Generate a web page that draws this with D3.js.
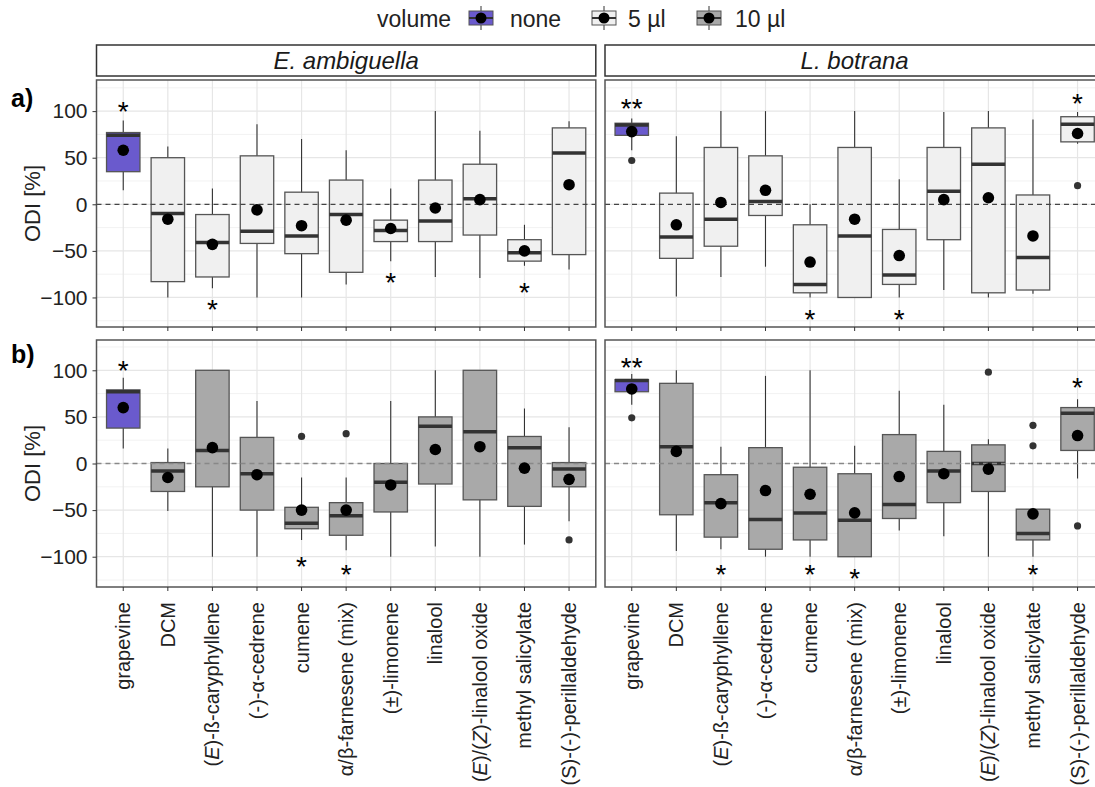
<!DOCTYPE html>
<html>
<head>
<meta charset="utf-8">
<script src="https://cdn.jsdelivr.net/npm/d3@7"></script>
<style>
  body { margin: 0; background: #fff; }
  svg { font-family: 'Liberation Sans', Arial, sans-serif; }
</style>
</head>
<body>
<svg id="chart" width="1095" height="787"></svg>
<script>
/* global d3 */

// ---- data ----
var categories = ['grapevine', 'DCM', 'caryophyllene', 'cedrene', 'cumene',
  'farnesene', 'limonene', 'linalool', 'linalool oxide', 'methyl salicylate',
  'perillaldehyde'];

// tick labels, split in [text, italic] pieces
var tickLabels = [
  [['grapevine', 0]],
  [['DCM', 0]],
  [['(', 0], ['E', 1], [')-ß-caryphyllene', 0]],
  [['(-)-α-cedrene', 0]],
  [['cumene', 0]],
  [['α/β-farnesene (mix)', 0]],
  [['(±)-limonene', 0]],
  [['linalool', 0]],
  [['(', 0], ['E', 1], [')/(', 0], ['Z', 1], [')-linalool oxide', 0]],
  [['methyl salicylate', 0]],
  [['(S)-(-)-perillaldehyde', 0]]
];

var species = ['E. ambiguella', 'L. botrana'];
var rowTags = ['a)', 'b)'];
var volumes = ['none', '5 µl', '10 µl'];
var volumeColors = ['#6a5acd', '#f0f0f0', '#a9a9a9'];
var yTicks = [-100, -50, 0, 50, 100];

// box stats per category: [lower whisker, q1, median, q3, upper whisker, mean]
var statsA_amb = [
  [15, 35, 74, 77, 90, 58],
  [-100, -83, -10, 50, 62, -16],
  [-90, -78, -41, -11, 17, -43],
  [-100, -42, -29, 52, 86, -6],
  [-100, -53, -34, 13, 70, -23],
  [-86, -73, -11, 26, 58, -17],
  [-61, -40, -28, -17, 17, -26],
  [-78, -40, -18, 26, 100, -4],
  [-79, -33, 6, 43, 79, 5],
  [-66, -61, -52, -38, -22, -50],
  [-70, -54, 55, 82, 89, 21]
];
var statsA_bot = [
  [58, 74, 85, 87, 92, 78],
  [-99, -58, -35, 12, 73, -22],
  [-78, -45, -16, 61, 100, 2],
  [-67, -12, 3, 52, 100, 15],
  [-100, -95, -86, -22, 0, -62],
  [-100, -100, -34, 61, 100, -16],
  [-100, -86, -76, -27, 27, -55],
  [-92, -38, 14, 61, 99, 5],
  [-100, -95, 43, 82, 100, 7],
  [-96, -92, -57, 10, 91, -34],
  [65, 67, 86, 94, 99, 76]
];
var statsB_amb = [
  [16, 38, 77, 79, 92, 60],
  [-51, -30, -8, 1, 16, -15],
  [-100, -25, 14, 100, 100, 17],
  [-100, -50, -11, 28, 67, -12],
  [-82, -70, -64, -47, -15, -50],
  [-93, -77, -56, -42, -15, -50],
  [-100, -52, -20, 0, 67, -23],
  [-89, -22, 40, 50, 100, 15],
  [-100, -39, 34, 100, 100, 18],
  [-87, -46, 17, 29, 59, -5],
  [-62, -25, -6, 1, 39, -17]
];
var statsB_bot = [
  [63, 77, 89, 90, 96, 80],
  [-94, -55, 18, 86, 100, 13],
  [-92, -79, -42, -12, 18, -43],
  [-100, -92, -60, 17, 94, -29],
  [-100, -82, -53, -4, 100, -33],
  [-100, -100, -61, -11, 19, -53],
  [-72, -59, -44, 31, 78, -14],
  [-78, -42, -8, 13, 63, -11],
  [-100, -30, 0, 20, 26, -6],
  [-100, -82, -75, -49, -49, -54],
  [-16, 14, 54, 60, 69, 30]
];

// outliers: [category index, value]
var outA_amb = [];
var outA_bot = [[0, 47], [10, 20]];
var outB_amb = [[4, 29], [5, 32], [10, -82]];
var outB_bot = [[0, 49], [8, 98], [9, 41], [9, 19], [10, -67]];

// significance marks: [category index, value, mark]
var sigA_amb = [[0, 107, '*'], [2, -106, '*'], [6, -77, '*'], [9, -88, '*']];
var sigA_bot = [[0, 110, '**'], [4, -117, '*'], [6, -117, '*'], [10, 115, '*']];
var sigB_amb = [[0, 107, '*'], [4, -104, '*'], [5, -112, '*']];
var sigB_bot = [[0, 110, '**'], [2, -112, '*'], [4, -112, '*'], [5, -116, '*'],
  [9, -112, '*'], [10, 88, '*']];

// ---- layout ----
var G = {
  colX: [[96.5, 595.8], [605, 1104.3]],
  rowY: [[80, 327], [340, 587]],
  rowDomain: [[-131.7, 133.4], [-132.5, 132.5]],
  stripY: 45,
  stripH: 31
};

var panels = [
  { row: 0, col: 0, stats: statsA_amb, out: outA_amb, sig: sigA_amb },
  { row: 0, col: 1, stats: statsA_bot, out: outA_bot, sig: sigA_bot },
  { row: 1, col: 0, stats: statsB_amb, out: outB_amb, sig: sigB_amb },
  { row: 1, col: 1, stats: statsB_bot, out: outB_bot, sig: sigB_bot }
];

var svg = d3.select('#chart');
svg.append('rect').attr('width', 1095).attr('height', 787).attr('fill', '#fff');

panels.forEach(drawPanel);
drawStrips();
drawAxes();
drawLegend();

function xScale(col) {
  return d3.scalePoint().domain(d3.range(categories.length))
    .range(G.colX[col]).padding(0.6);
}

function yScale(row) {
  return d3.scaleLinear().domain(G.rowDomain[row])
    .range([G.rowY[row][1], G.rowY[row][0]]);
}

function drawPanel(p) {
  var x = xScale(p.col), y = yScale(p.row);
  var x0 = G.colX[p.col][0], x1 = G.colX[p.col][1];
  var y0 = G.rowY[p.row][0], y1 = G.rowY[p.row][1];
  var bw = x.step() * 0.75;
  var fillOf = function(i) { return i === 0 ? volumeColors[0] : volumeColors[p.row + 1]; };
  var g = svg.append('g');

  // grid
  var minor = [-125, -75, -25, 25, 75, 125];
  g.selectAll('.minor').data(minor).enter().append('line')
    .attr('x1', x0).attr('x2', x1)
    .attr('y1', function(d) { return y(d); }).attr('y2', function(d) { return y(d); })
    .attr('stroke', '#f2f2f2').attr('stroke-width', 1);
  g.selectAll('.major').data(yTicks).enter().append('line')
    .attr('x1', x0).attr('x2', x1)
    .attr('y1', function(d) { return y(d); }).attr('y2', function(d) { return y(d); })
    .attr('stroke', '#e6e6e6').attr('stroke-width', 1.2);
  g.selectAll('.vgrid').data(d3.range(categories.length)).enter().append('line')
    .attr('x1', function(d) { return x(d); }).attr('x2', function(d) { return x(d); })
    .attr('y1', y0).attr('y2', y1)
    .attr('stroke', '#e6e6e6').attr('stroke-width', 1.2);

  // boxes
  var items = g.selectAll('.item').data(p.stats).enter().append('g');
  items.append('line')
    .attr('x1', function(d, i) { return x(i); }).attr('x2', function(d, i) { return x(i); })
    .attr('y1', function(d) { return y(d[0]); }).attr('y2', function(d) { return y(d[4]); })
    .attr('stroke', '#333').attr('stroke-width', 1.1);
  items.append('rect')
    .attr('x', function(d, i) { return x(i) - bw / 2; })
    .attr('width', bw)
    .attr('y', function(d) { return y(d[3]); })
    .attr('height', function(d) { return Math.max(1, y(d[1]) - y(d[3])); })
    .attr('fill', function(d, i) { return fillOf(i); })
    .attr('stroke', '#555').attr('stroke-width', 1.3);
  items.append('line')
    .attr('x1', function(d, i) { return x(i) - bw / 2; })
    .attr('x2', function(d, i) { return x(i) + bw / 2; })
    .attr('y1', function(d) { return y(d[2]); }).attr('y2', function(d) { return y(d[2]); })
    .attr('stroke', '#333').attr('stroke-width', 3.5);

  // outliers
  g.selectAll('.out').data(p.out).enter().append('circle')
    .attr('cx', function(d) { return x(d[0]); })
    .attr('cy', function(d) { return y(d[1]); })
    .attr('r', 3.6).attr('fill', '#333');

  // zero reference
  g.append('line')
    .attr('x1', x0).attr('x2', x1).attr('y1', y(0)).attr('y2', y(0))
    .attr('stroke', p.row === 0 ? '#444' : '#888').attr('stroke-width', 1.3)
    .attr('stroke-dasharray', '5,4');

  // means
  g.selectAll('.mean').data(p.stats).enter().append('circle')
    .attr('cx', function(d, i) { return x(i); })
    .attr('cy', function(d) { return y(d[5]); })
    .attr('r', 5.8).attr('fill', '#000');

  // significance
  g.selectAll('.sig').data(p.sig).enter().append('text')
    .attr('x', function(d) { return x(d[0]); })
    .attr('y', function(d) { return y(d[1]) + 16; })
    .attr('text-anchor', 'middle')
    .style('font-size', '28px')
    .text(function(d) { return d[2]; });

  // border
  g.append('rect')
    .attr('x', x0).attr('y', y0).attr('width', x1 - x0).attr('height', y1 - y0)
    .attr('fill', 'none').attr('stroke', '#555').attr('stroke-width', 1.5);
}

function drawStrips() {
  species.forEach(function(s, c) {
    var x0 = G.colX[c][0], x1 = G.colX[c][1];
    svg.append('rect')
      .attr('x', x0).attr('y', G.stripY).attr('width', x1 - x0).attr('height', G.stripH)
      .attr('fill', '#fff').attr('stroke', '#333').attr('stroke-width', 1.5);
    svg.append('text')
      .attr('x', (x0 + x1) / 2).attr('y', G.stripY + G.stripH / 2 + 8)
      .attr('text-anchor', 'middle')
      .style('font-size', '24px').style('font-style', 'italic').style('fill', '#1a1a1a')
      .text(s);
  });
}

function drawAxes() {
  G.rowY.forEach(function(r, ri) {
    var y = yScale(ri);
    var ax = svg.append('g').attr('transform', 'translate(' + G.colX[0][0] + ',0)')
      .call(d3.axisLeft(y).tickValues(yTicks).tickSize(4).tickPadding(5));
    ax.select('.domain').remove();
    ax.selectAll('.tick line').attr('stroke', '#333');
    ax.selectAll('.tick text').style('font-size', '21px').style('fill', '#222')
      .style('font-family', 'Liberation Sans, Arial, sans-serif');
    svg.append('text')
      .attr('transform', 'translate(40,' + ((r[0] + r[1]) / 2) + ') rotate(-90)')
      .attr('text-anchor', 'middle')
      .style('font-size', '22px').style('fill', '#222')
      .text('ODI [%]');
    svg.append('text')
      .attr('x', 11).attr('y', ri === 0 ? 107 : 363)
      .style('font-size', '25px').style('font-weight', 'bold')
      .text(rowTags[ri]);
  });

  // x ticks on both rows, labels below the lower row
  [0, 1].forEach(function(c) {
    var x = xScale(c);
    G.rowY.forEach(function(r) {
      svg.append('g').selectAll('line').data(d3.range(categories.length)).enter()
        .append('line')
        .attr('x1', function(d) { return x(d); }).attr('x2', function(d) { return x(d); })
        .attr('y1', r[1]).attr('y2', r[1] + 4)
        .attr('stroke', '#333');
    });
    var lab = svg.append('g').selectAll('text').data(tickLabels).enter().append('text')
      .attr('transform', function(d, i) {
        return 'translate(' + x(i) + ',' + (G.rowY[1][1] + 15) + ') rotate(-90)';
      })
      .attr('text-anchor', 'end').attr('dy', '0.35em')
      .style('font-size', '20px').style('fill', '#222');
    lab.selectAll('tspan').data(function(d) { return d; }).enter().append('tspan')
      .style('font-style', function(d) { return d[1] ? 'italic' : 'normal'; })
      .text(function(d) { return d[0]; });
  });
}

function drawLegend() {
  var lg = svg.append('g');
  lg.append('text').attr('x', 377).attr('y', 27)
    .style('font-size', '23px').style('fill', '#222').text('volume');
  var keyX = [469, 592, 697];
  var textX = [510, 628, 735];
  volumes.forEach(function(v, i) {
    var kx = keyX[i];
    lg.append('line').attr('x1', kx + 12).attr('x2', kx + 12).attr('y1', 6).attr('y2', 30)
      .attr('stroke', '#333');
    lg.append('rect').attr('x', kx).attr('y', 11).attr('width', 24).attr('height', 14)
      .attr('fill', volumeColors[i]).attr('stroke', '#555');
    lg.append('line').attr('x1', kx).attr('x2', kx + 24).attr('y1', 18).attr('y2', 18)
      .attr('stroke', '#333').attr('stroke-width', 2);
    lg.append('circle').attr('cx', kx + 12).attr('cy', 18).attr('r', 5.5).attr('fill', '#000');
    lg.append('text').attr('x', textX[i]).attr('y', 27)
      .style('font-size', '23px').style('fill', '#222').text(v);
  });
}
</script>
</body>
</html>
